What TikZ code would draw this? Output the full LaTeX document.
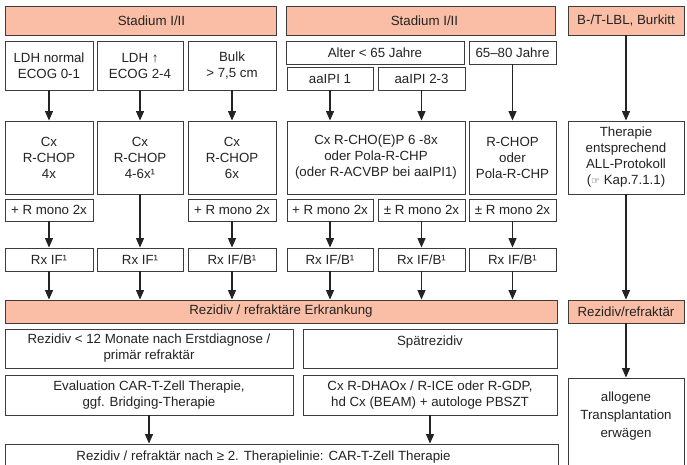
\documentclass[tikz,border=0pt]{standalone}
\usepackage{fontspec}
\setmainfont{Liberation Sans}
\newfontfamily\dejavu{DejaVu Sans}
\usetikzlibrary{arrows.meta}
\definecolor{salmon}{RGB}{249,190,165}
\definecolor{edge}{RGB}{60,60,60}
\definecolor{ink}{RGB}{35,35,35}
\newcommand\bx[7][]{%
  \pgfmathsetmacro\bxcx{(#3+#5)/2}%
  \pgfmathsetmacro\bxcy{(#4+#6)/2}%
  \pgfmathsetmacro\bxww{#5-#3}%
  \pgfmathsetmacro\bxhh{#6-#4}%
  \node[box,#1,minimum width=\bxww pt,minimum height=\bxhh pt] (#2) at (\bxcx,\bxcy) {#7};}
\begin{document}
\begin{tikzpicture}[x=1pt,y=-1pt,
  font=\fontsize{13.3}{16}\selectfont,
  box/.style={draw=edge,line width=0.9pt,fill=white,align=center,inner sep=0pt,text=ink},
  hdr/.style={fill=salmon},
  arr/.style={draw=ink,line width=1.2pt,-{Triangle[width=8pt,length=9.5pt]}}]
\useasboundingbox (0,0) rectangle (687,465);
\clip (0,0) rectangle (687,465);
% header row
\bx[hdr]{s1}{5}{6}{276}{35}{\hspace*{22pt}Stadium I/II}
\bx[hdr]{s2}{286}{6}{555}{35}{\hspace*{8pt}Stadium I/II}
\bx[hdr]{s3}{568}{6}{684}{35}{B-/T-LBL, Burkitt}
% second row
\bx{a1}{5}{41}{93}{90}{LDH normal\\ECOG 0-1}
\bx{a2}{97}{41}{183}{90}{LDH ↑\\ECOG 2-4}
\bx{a3}{188}{41}{276}{90}{Bulk\\> 7,5 cm}
\bx{alt}{286}{41}{464}{64}{Alter < 65 Jahre}
\bx{old}{469}{41}{556}{64}{65–80 Jahre}
\bx{ip1}{287}{67}{373}{90}{aaIPI 1}
\bx{ip2}{378}{67}{465}{90}{aaIPI 2-3}
% therapy row
\bx{c1}{5}{121}{93}{194}{Cx\\R-CHOP\\4x}
\bx{c2}{97}{121}{183}{194}{Cx\\R-CHOP\\4-6x¹}
\bx{c3}{188}{121}{276}{194}{Cx\\R-CHOP\\6x}
\bx{c4}{287}{121}{465}{194}{Cx R-CHO(E)P 6 -8x\\oder Pola-R-CHP\\(oder R-ACVBP bei aaIPI1)}
\bx{c6}{469}{121}{556}{194}{R-CHOP\\oder\\Pola-R-CHP}
\bx{th}{568}{121}{684}{194}{Therapie\\entsprechend\\ALL-Protokoll\\({\dejavu\fontsize{10}{10}\selectfont ☞} Kap.7.1.1)}
% R mono row
\bx{m1}{5}{199}{93}{221}{+ R mono 2x}
\bx{m3}{188}{199}{276}{221}{+ R mono 2x}
\bx{m4}{287}{199}{373}{221}{+ R mono 2x}
\bx{m5}{378}{199}{465}{221}{± R mono 2x}
\bx{m6}{469}{199}{556}{221}{± R mono 2x}
% Rx row
\bx{r1}{5}{248}{93}{271}{Rx IF¹}
\bx{r2}{97}{248}{183}{271}{Rx IF¹}
\bx{r3}{188}{248}{276}{271}{Rx IF/B¹}
\bx{r4}{287}{248}{373}{271}{Rx IF/B¹}
\bx{r5}{378}{248}{465}{271}{Rx IF/B¹}
\bx{r6}{469}{248}{556}{271}{Rx IF/B¹}
% relapse band
\bx[hdr]{rez}{5}{300}{557}{323}{Rezidiv / refraktäre Erkrankung}
\bx[hdr]{rr}{568}{300}{684}{323}{Rezidiv/refraktär}
\bx{e1}{5}{329}{293}{368}{Rezidiv < 12 Monate nach Erstdiagnose /\\primär refraktär}
\bx{e2}{303}{329}{557}{368}{Spätrezidiv\\\mbox{}}
\bx{f1}{5}{375}{293}{415}{Evaluation CAR-T-Zell Therapie,\\ggf. Bridging-Therapie}
\bx{f2}{303}{375}{557}{415}{Cx R-DHAOx / R-ICE oder R-GDP,\\hd Cx (BEAM) + autologe PBSZT}
\bx[font=\fontsize{13.3}{18}\selectfont]{al}{568}{378}{684}{470}{allogene\\Transplantation\\erwägen\\\mbox{}}
\bx{last}{5}{444}{558}{470}{\hspace*{-36pt}Rezidiv / refraktär nach ≥ 2. Therapielinie: CAR-T-Zell Therapie}
% arrows
\draw[arr] (a1) -- (c1);
\draw[arr] (a2) -- (c2);
\draw[arr] (a3) -- (c3);
\draw[arr] (ip1.south) -- (ip1.south |- c4.north);
\draw[arr] (ip2.south) -- (ip2.south |- c4.north);
\draw[arr] (old) -- (c6);
\draw[arr] (s3.south) -- (s3.south |- th.north);
\draw[arr] (m1) -- (r1);
\draw[arr] (c2) -- (r2);
\draw[arr] (m3) -- (r3);
\draw[arr] (m4) -- (r4);
\draw[arr] (m5) -- (r5);
\draw[arr] (m6) -- (r6);
\foreach \r in {r1,r2,r3,r4,r5,r6}{\draw[arr] (\r.south) -- (\r.south |- rez.north);}
\draw[arr] (th.south) -- (th.south |- rr.north);
\draw[arr] (f1.south) -- (f1.south |- last.north);
\draw[arr] (f2.south) -- (f2.south |- last.north);
\draw[arr] (rr.south) -- (rr.south |- al.north);
\end{tikzpicture}
\end{document}
